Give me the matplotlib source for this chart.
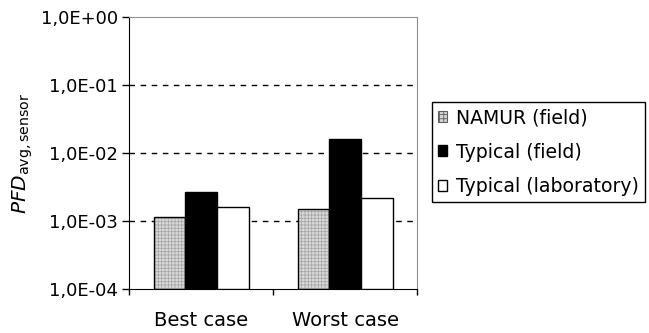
import matplotlib
matplotlib.use("Agg")
import matplotlib.pyplot as plt
from matplotlib.ticker import FixedLocator, FuncFormatter, NullFormatter

# values
cases = ["Best case", "Worst case"]
namur_field = [1.15e-3, 1.52e-3]
typical_field = [2.7e-3, 1.6e-2]
typical_lab = [1.6e-3, 2.2e-3]
series_names = ["NAMUR (field)", "Typical (field)", "Typical (laboratory)"]

plt.rcParams["font.family"] = "DejaVu Sans"
plt.rcParams["font.size"] = 12
plt.rcParams["hatch.color"] = "#a8a8a8"
plt.rcParams["hatch.linewidth"] = 0.6

fig = plt.figure(figsize=(6.49, 3.33), dpi=100)
ax = fig.add_axes([0.1988, 0.1321, 0.4438, 0.817])

w = 0.22
x = range(len(cases))
base = 1e-4
h_namur = [v - base for v in namur_field]
h_typ = [v - base for v in typical_field]
h_lab = [v - base for v in typical_lab]

# gray checker pattern, then black outline on top
ax.bar([i - w for i in x], h_namur, w, bottom=base, color="#dadada",
       hatch="+++++", edgecolor="#a8a8a8", linewidth=0, zorder=3)
b1 = ax.bar([i - w for i in x], h_namur, w, bottom=base, fill=False,
            edgecolor="black", linewidth=1, zorder=4)
b2 = ax.bar(list(x), h_typ, w, bottom=base, color="black",
            edgecolor="black", linewidth=1, zorder=3)
b3 = ax.bar([i + w for i in x], h_lab, w, bottom=base, color="white",
            edgecolor="black", linewidth=1, zorder=3)

ax.set_yscale("log")
ax.set_ylim(1e-4, 1e0)
ax.set_xlim(-0.5, 1.5)

ax.yaxis.set_major_locator(FixedLocator([1e-4, 1e-3, 1e-2, 1e-1, 1e0]))
ax.yaxis.set_minor_locator(FixedLocator([]))
ax.yaxis.set_major_formatter(FuncFormatter(lambda v, p: ("%.1E" % v).replace(".", ",")))
ax.yaxis.set_minor_formatter(NullFormatter())
ax.tick_params(axis="y", direction="out", length=5, width=1, pad=3, labelsize=13)

for v in [1e-3, 1e-2, 1e-1]:
    ax.axhline(v, color="black", linewidth=1, linestyle=(0, (4, 4)), zorder=1)

ax.set_xticks([-0.5, 0.5, 1.5])
ax.set_xticklabels([])
ax.set_xticks(list(x), minor=True)
ax.set_xticklabels(cases, minor=True)
ax.tick_params(axis="x", which="major", direction="out", length=4, width=1)
ax.tick_params(axis="x", which="minor", length=0, pad=16, labelsize=14)

ax.spines["left"].set_color("black")
ax.spines["bottom"].set_color("black")
ax.spines["top"].set_color("#909090")
ax.spines["right"].set_color("#909090")

ax.set_ylabel(r"$\mathit{PFD}_{\mathrm{avg,sensor}}$", fontsize=14.5, labelpad=4)

hatch_handle = matplotlib.patches.Rectangle((0, 0), 1, 1, facecolor="#d4d4d4",
                                            hatch="++++", edgecolor="#606060", linewidth=0.8)
leg = fig.legend([hatch_handle, b2, b3], series_names, loc="upper left",
                 bbox_to_anchor=(0.6656, 0.6937), bbox_transform=fig.transFigure,
                 borderaxespad=0, fancybox=False, edgecolor="black", framealpha=1,
                 handlelength=0.5, handleheight=0.5, handletextpad=0.45,
                 labelspacing=0.82, borderpad=0.32, fontsize=13.6)
leg.get_frame().set_linewidth(1)

fig.savefig("out.png", dpi=100)
